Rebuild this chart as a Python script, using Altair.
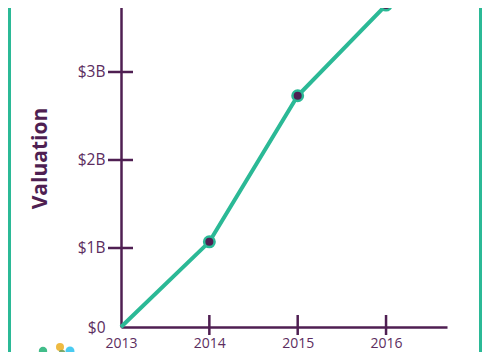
import altair as alt
import pandas as pd

years = [2013, 2014, 2015, 2016]
valuation = [0, 1.07, 2.73, 3.76]
y_ticks = [1, 2, 3]
x_ticks = [2014, 2015, 2016]

PURPLE = "#4F1F52"
LABEL = "#5C2D60"
TEAL = "#2BB996"
FONT = "Open Sans"

df = pd.DataFrame({"year": years, "val": valuation})
df_pts = df[df["year"] > 2013]
df_yt = pd.DataFrame({"v": y_ticks})
df_xt = pd.DataFrame({"yr": x_ticks})

Y_MIN = 0.1023
xscale = alt.Scale(domain=[2013, 2016.69], nice=False, zero=False)
yscale = alt.Scale(domain=[Y_MIN, 3.818], nice=False, zero=False, clamp=True)

line = alt.Chart(df).mark_line(color=TEAL, strokeWidth=4).encode(
    x=alt.X("year:Q", scale=xscale,
            axis=alt.Axis(values=years, format="d", ticks=False, tickSize=0,
                          labelPadding=20, labelBaseline="alphabetic", labelFlush=False,
                          labelFontSize=14, labelFont=FONT,
                          labelColor=LABEL, domainColor=PURPLE, domainWidth=2.5,
                          grid=False, title=None)),
    y=alt.Y("val:Q", scale=yscale,
            axis=alt.Axis(values=[Y_MIN, 1, 2, 3],
                          labelExpr="datum.value < 0.5 ? '$0' : '$' + datum.value + 'B'",
                          ticks=False, tickSize=0, labelPadding=16, labelFontSize=15.5,
                          labelFlush=False,
                          labelFont=FONT, labelColor=LABEL, domainColor=PURPLE,
                          domainWidth=2.5, grid=False, title="Valuation",
                          titleAngle=270, titleX=-81, titleY=158, titleAlign="center",
                          titleBaseline="middle", titleFontSize=21, titleFont=FONT,
                          titleFontWeight="bold", titleColor=PURPLE)),
)

pts = alt.Chart(df_pts).mark_point(filled=True, size=110, fill=PURPLE, stroke=TEAL,
                                   strokeWidth=2.5, opacity=1).encode(
    x=alt.X("year:Q", scale=xscale),
    y=alt.Y("val:Q", scale=yscale),
)

yt = alt.Chart(df_yt).mark_rule(color=PURPLE, strokeWidth=2.5).encode(
    y=alt.Y("v:Q", scale=yscale),
    x=alt.value(-13),
    x2=alt.value(12),
)

xt = alt.Chart(df_xt).mark_rule(color=PURPLE, strokeWidth=2.5).encode(
    x=alt.X("yr:Q", scale=xscale),
    y=alt.value(315),
    y2=alt.value(335),
)

border = pd.DataFrame({"side": ["left", "right"], "px": [-111.5, 359.5]})
borders = alt.Chart(border).mark_rule(color=TEAL, strokeWidth=3).encode(
    x=alt.X("px:Q", scale=None),
    y=alt.value(-20),
    y2=alt.value(400),
)

logo = pd.DataFrame({
    "px": [-78, -61, -51, -59],
    "py": [351, 347, 351, 353],
    "c": ["#2EB67D", "#ECB22E", "#36C5F0", "#6FA05A"],
    "s": [70, 65, 80, 45],
})
logo_marks = alt.Chart(logo).mark_circle(opacity=0.9).encode(
    x=alt.X("px:Q", scale=None),
    y=alt.Y("py:Q", scale=None),
    color=alt.Color("c:N", scale=None),
    size=alt.Size("s:Q", scale=None),
)

chart = alt.layer(borders, logo_marks, line, yt, xt, pts).properties(
    width=326, height=327,
    autosize=alt.AutoSizeParams(type="none"),
    padding={"left": 113, "top": -8, "right": 35, "bottom": 25},
    background="white",
).configure_view(stroke=None)

chart.save("out.html", embed_options={"renderer": "svg", "actions": False})
